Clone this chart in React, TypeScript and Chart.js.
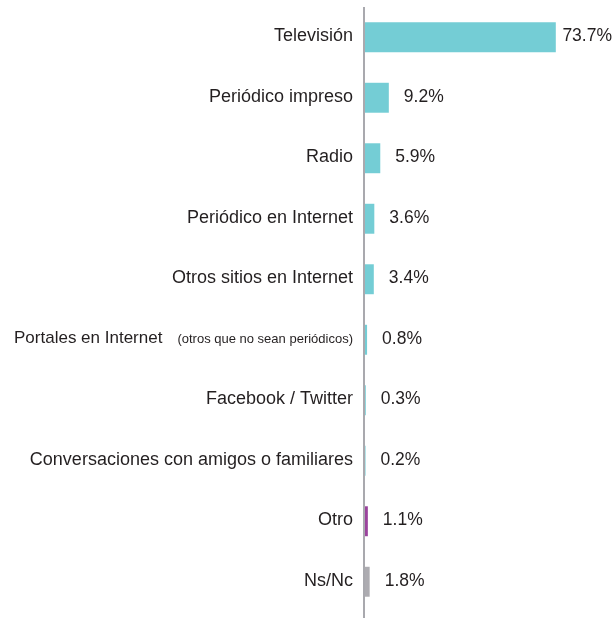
import React, { useEffect, useRef } from "react";
import { Chart, registerables } from "chart.js";

Chart.register(...registerables);

const categories = [
  "Televisión",
  "Periódico impreso",
  "Radio",
  "Periódico en Internet",
  "Otros sitios en Internet",
  "Portales en Internet",
  "Facebook / Twitter",
  "Conversaciones con amigos o familiares",
  "Otro",
  "Ns/Nc",
];
const categoryNotes = ["", "", "", "", "", "(otros que no sean periódicos)", "", "", "", ""];
const values = [73.7, 9.2, 5.9, 3.6, 3.4, 0.8, 0.3, 0.2, 1.1, 1.8];

const TEAL = "#74cdd5";
const PURPLE = "#9b449d";
const GRAY = "#adacb1";
const barColors = [TEAL, TEAL, TEAL, TEAL, TEAL, TEAL, TEAL, TEAL, PURPLE, GRAY];

const FONT = '"Liberation Sans", Arial, Helvetica, sans-serif';
const TEXT = "#231f20";

const labelsPlugin = {
  id: "customLabels",
  afterDatasetsDraw(chart: any) {
    const ctx = chart.ctx as CanvasRenderingContext2D;
    const area = chart.chartArea;
    const meta = chart.getDatasetMeta(0);
    ctx.save();
    // axis line
    ctx.strokeStyle = "#a9a9ae";
    ctx.lineWidth = 2;
    ctx.beginPath();
    ctx.moveTo(area.left - 1, area.top);
    ctx.lineTo(area.left - 1, chart.height);
    ctx.stroke();

    ctx.fillStyle = TEXT;
    ctx.textBaseline = "middle";
    const labelRight = area.left - 12;
    meta.data.forEach((bar: any, i: number) => {
      const y = bar.y - 1;
      // category labels
      let right = labelRight;
      ctx.textAlign = "right";
      if (categoryNotes[i]) {
        ctx.font = `13px ${FONT}`;
        ctx.fillText(categoryNotes[i], right, y + 1);
        right -= ctx.measureText(categoryNotes[i]).width + 15;
        ctx.font = `17px ${FONT}`;
      } else {
        ctx.font = `18px ${FONT}`;
      }
      ctx.fillText(categories[i], right, y);

      // value labels
      const txt = values[i].toFixed(1) + "%";
      ctx.font = `17.5px ${FONT}`;
      ctx.textAlign = "left";
      const w = ctx.measureText(txt).width;
      let x = bar.x + 15;
      const limit = chart.width - 2;
      if (x + w > limit) {
        x = Math.max(bar.x + 6, limit - w);
        ctx.fillText(txt, x, y, limit - x);
      } else {
        ctx.fillText(txt, x, y);
      }
    });
    ctx.restore();
  },
};

export default function App() {
  const ref = useRef<HTMLCanvasElement | null>(null);
  useEffect(() => {
    if (!ref.current) return;
    const chart = new Chart(ref.current, {
      type: "bar",
      data: {
        labels: categories,
        datasets: [
          {
            data: values,
            backgroundColor: barColors,
            borderWidth: 0,
            barPercentage: 0.5,
            categoryPercentage: 0.99,
          },
        ],
      },
      options: {
        indexAxis: "y",
        responsive: false,
        animation: false,
        layout: { padding: { left: 365, right: 16, top: 7, bottom: 6 } },
        plugins: {
          legend: { display: false },
          tooltip: { enabled: false },
        },
        scales: {
          x: { display: false, min: 0, max: 90 },
          y: { display: false },
        },
      },
      plugins: [labelsPlugin],
    });
    return () => chart.destroy();
  }, []);
  return (
    <div style={{ position: "absolute", left: 0, top: 0, width: 614, height: 618, background: "#fff" }}>
      <canvas ref={ref} width={614} height={618} style={{ display: "block" }} />
    </div>
  );
}
